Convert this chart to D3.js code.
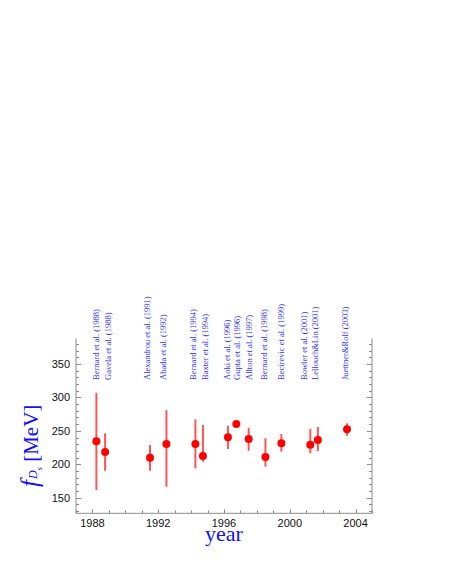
<!DOCTYPE html>
<html><head><meta charset="utf-8">
<script src="https://cdn.jsdelivr.net/npm/d3@7"></script>
<style>body{margin:0;background:#fff}svg{display:block}</style>
</head><body>
<svg id="c" width="449" height="580"></svg>
<script>
const refs = ["Bernard et al. (1988)","Gavela et al. (1988)","Alexandrou et al. (1991)","Abada et al. (1992)","Bernard et al. (1994)","Baxter et al. (1994)","Aoki et al. (1996)","Gupta et al. (1996)","Allton et al. (1997)","Bernard et al. (1998)","Becirevic et al. (1999)","Bowler et al. (2001)","Lellouch&Lin (2001)","Juettner&Rolf (2003)"];
const years = [1988.24,1988.77,1991.50,1992.50,1994.26,1994.72,1996.24,1996.75,1997.50,1998.52,1999.49,2001.25,2001.71,2003.48];
const labelYears = [1988.40,1989.11,1991.48,1992.49,1994.32,1995.03,1996.38,1996.99,1997.70,1998.63,1999.63,2001.05,2001.71,2003.54];
const fds = [234.3,218.3,209.7,230.2,230.2,212.3,240.3,260.2,237.7,210.8,231.3,229.2,236.2,252.2];
const errHi = [307,246.3,228.7,281.1,267.2,258.7,257.6,264,254.6,238.8,245.2,252.7,255.7,261.2];
const errLo = [161.4,190.3,190.3,166.3,193.9,203.7,222.8,256,220.2,196.3,218.7,216.3,219.8,242.7];
const xTickLabels = [1988,1992,1996,2000,2004];
const yTickLabels = [150,200,250,300,350];

const svg = d3.select("#c");
const L=76, R=372, T=338.3, B=513.3;
const x = d3.scaleLinear().domain([1987,2005]).range([L,R]);
const y = d3.scaleLinear().domain([126.6,388.5]).range([B,T]);
const axisCol="#8c8c8c";
const g = svg.append("g");

// axes lines
g.append("line").attr("x1",L).attr("x2",L).attr("y1",T).attr("y2",B).attr("stroke",axisCol);
g.append("line").attr("x1",R).attr("x2",R).attr("y1",T).attr("y2",B).attr("stroke",axisCol);
g.append("line").attr("x1",L).attr("x2",R).attr("y1",B).attr("y2",B).attr("stroke",axisCol);

// y ticks (minor every 10, major every 50), inward on both sides
const yMinor = d3.range(130,389,10);
yMinor.forEach(v=>{
  const major = v%50===0, len = major?5:3, yy=Math.round(y(v))+0.5;
  g.append("line").attr("x1",L).attr("x2",L+len).attr("y1",yy).attr("y2",yy).attr("stroke",axisCol);
  g.append("line").attr("x1",R).attr("x2",R-len).attr("y1",yy).attr("y2",yy).attr("stroke",axisCol);
});
yTickLabels.forEach(v=>{
  g.append("text").attr("x",70).attr("y",y(v)).attr("dy","0.36em").attr("text-anchor","end")
   .attr("font-family","Liberation Sans, Arial, sans-serif").attr("font-size",11).attr("fill","#111").text(v);
});
// x ticks
d3.range(1987,2006,1).forEach(v=>{
  const major = (v%4===0), len = major?4:3, xx=Math.round(x(v))+0.5;
  g.append("line").attr("x1",xx).attr("x2",xx).attr("y1",B).attr("y2",B-len).attr("stroke",axisCol);
});
xTickLabels.forEach(v=>{
  g.append("text").attr("x",x(v)).attr("y",527).attr("text-anchor","middle")
   .attr("font-family","Liberation Sans, Arial, sans-serif").attr("font-size",11).attr("fill","#111").text(v);
});

// error bars
const idx = d3.range(fds.length);
g.selectAll(".eb").data(idx).join("line").attr("class","eb")
 .attr("x1",i=>x(years[i])).attr("x2",i=>x(years[i]))
 .attr("y1",i=>y(errHi[i])).attr("y2",i=>y(errLo[i]))
 .attr("stroke","#ff5555").attr("stroke-width",2);
g.selectAll(".pt").data(idx).join("circle").attr("class","pt")
 .attr("cx",i=>x(years[i])).attr("cy",i=>y(fds[i])).attr("r",4).attr("fill","#ff0000");

// reference labels
g.selectAll(".lab").data(idx).join("text").attr("class","lab")
 .attr("transform",i=>`translate(${x(labelYears[i])},380) rotate(-90)`)
 .attr("font-family","Liberation Serif, Times New Roman, serif").attr("font-size",8.5)
 .attr("fill","#3030ff").text(i=>refs[i]);

// axis titles
const yl = svg.append("text").attr("transform","translate(38,487) rotate(-90)")
 .attr("font-family","Liberation Serif, Times New Roman, serif").attr("fill","#1010ff");
yl.append("tspan").attr("font-style","italic").attr("font-size",25).text("f");
yl.append("tspan").attr("font-style","italic").attr("font-size",12).attr("dx",1).attr("dy",-1).text("D");
yl.append("tspan").attr("font-style","italic").attr("font-size",9).attr("dy",5).text("s");
yl.append("tspan").attr("font-size",21).attr("dy",-4).attr("dx",5).text("[MeV]");

svg.append("text").attr("x",(L+R)/2).attr("y",541).attr("text-anchor","middle")
 .attr("font-family","Liberation Serif, Times New Roman, serif").attr("font-size",22).attr("fill","#1010ff").text("year");
</script>
</body></html>
